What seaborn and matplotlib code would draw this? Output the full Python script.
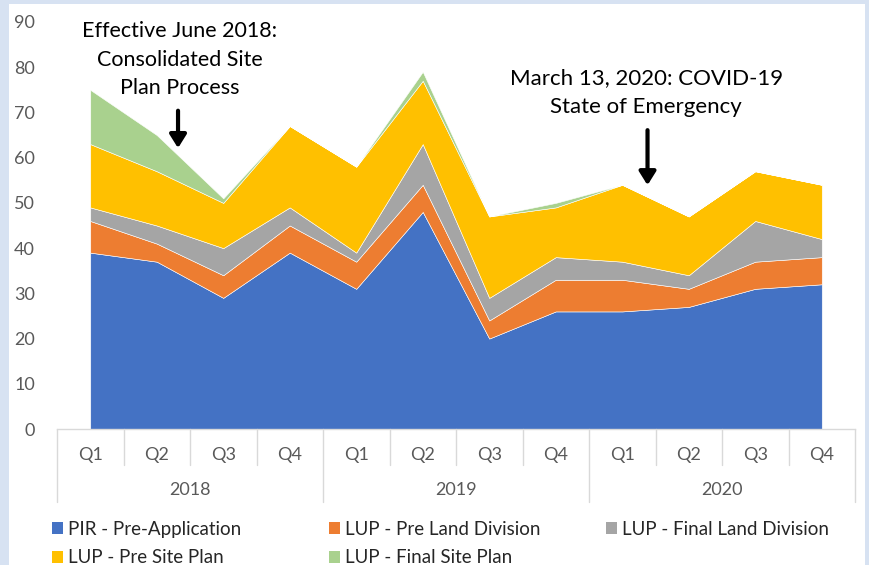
import matplotlib
matplotlib.use('Agg')
import matplotlib.pyplot as plt
from matplotlib.patches import Rectangle, Patch
from matplotlib.lines import Line2D
import seaborn as sns
import pandas as pd

quarters = ['Q1', 'Q2', 'Q3', 'Q4'] * 3
years = ['2018', '2019', '2020']
pir_pre_app = [39, 37, 29, 39, 31, 48, 20, 26, 26, 27, 31, 32]
lup_pre_land = [7, 4, 5, 6, 6, 6, 4, 7, 7, 4, 6, 6]
lup_final_land = [3, 4, 6, 4, 2, 9, 5, 5, 4, 3, 9, 4]
lup_pre_site = [14, 12, 10, 18, 19, 14, 18, 11, 17, 13, 11, 12]
lup_final_site = [12, 8, 1, 0, 0, 2, 0, 1, 0, 0, 0, 0]

series_names = ['PIR - Pre-Application', 'LUP - Pre Land Division', 'LUP - Final Land Division',
                'LUP - Pre Site Plan', 'LUP - Final Site Plan']
colors = ['#4472C4', '#ED7D31', '#A5A5A5', '#FFC000', '#A9D18E']

df = pd.DataFrame({
    series_names[0]: pir_pre_app,
    series_names[1]: lup_pre_land,
    series_names[2]: lup_final_land,
    series_names[3]: lup_pre_site,
    series_names[4]: lup_final_site,
})

sns.set_style('white')
plt.rcParams['font.family'] = ['Lato', 'DejaVu Sans']

fig = plt.figure(figsize=(8.69, 5.65), dpi=100)
fig.patch.set_facecolor('#D7E2F2')
fig.patches.append(Rectangle((9 / 869, 0), 856 / 869, 561 / 565, transform=fig.transFigure,
                             facecolor='white', edgecolor='none', zorder=-10))

ax = fig.add_axes([57 / 869, 1 - 429 / 565, 798 / 869, 407 / 565])
ax.set_facecolor('none')
x = list(range(len(df)))
ax.stackplot(x, *[df[c] for c in series_names], colors=colors, labels=series_names,
             edgecolor='white', linewidth=0.4)

ax.set_xlim(-0.5, 11.5)
ax.set_ylim(0, 90)
ax.set_yticks(range(0, 91, 10))
ax.tick_params(axis='y', labelsize=13, labelcolor='#595959', length=0, pad=16)
ax.set_xticks([])
for s in ['top', 'right', 'left']:
    ax.spines[s].set_visible(False)
ax.spines['bottom'].set_color('#D9D9D9')
ax.spines['bottom'].set_linewidth(1)

# multi-level category axis
trans = ax.get_xaxis_transform()
for i in range(13):
    xb = i - 0.5
    low = -0.179 if i % 4 == 0 else -0.088
    ax.add_line(Line2D([xb, xb], [0, low], transform=trans, color='#D9D9D9', lw=1, clip_on=False))
for i, q in enumerate(quarters):
    ax.text(i, -0.064, q, transform=trans, ha='center', va='center', fontsize=13, color='#595959')
for j, y in enumerate(years):
    ax.text(j * 4 + 1.5, -0.15, y, transform=trans, ha='center', va='center', fontsize=13, color='#595959')

# annotations
ax.text(1.35, 81.7, 'Effective June 2018:\nConsolidated Site\nPlan Process', ha='center', va='center',
        fontsize=15.5, color='black', linespacing=1.55)
ax.annotate('', xy=(1.32, 61.5), xytext=(1.32, 71),
            arrowprops=dict(arrowstyle='-|>,head_width=0.5,head_length=0.8', color='black', lw=3))
ax.text(8.36, 74.4, 'March 13, 2020: COVID-19\nState of Emergency', ha='center', va='center',
        fontsize=16, color='black', linespacing=1.6)
ax.annotate('', xy=(8.38, 53.3), xytext=(8.38, 66.7),
            arrowprops=dict(arrowstyle='-|>,head_width=0.5,head_length=0.8', color='black', lw=3))

# legend, one block per column like Excel's fixed-width layout
col_items = [[0, 3], [1, 4], [2]]
col_x = [52, 329, 606]
for items, cx in zip(col_items, col_x):
    handles = [Patch(facecolor=colors[k], edgecolor='none') for k in items]
    labels = [series_names[k] for k in items]
    leg = fig.legend(handles, labels, loc='upper left', bbox_to_anchor=(cx / 869, 1 - 521 / 565),
                     frameon=False, fontsize=13.5, handlelength=0.6, handleheight=0.6,
                     handletextpad=0.25, labelspacing=0.6, borderpad=0, borderaxespad=0)

fig.savefig('out.png', dpi=100, facecolor=fig.get_facecolor())
